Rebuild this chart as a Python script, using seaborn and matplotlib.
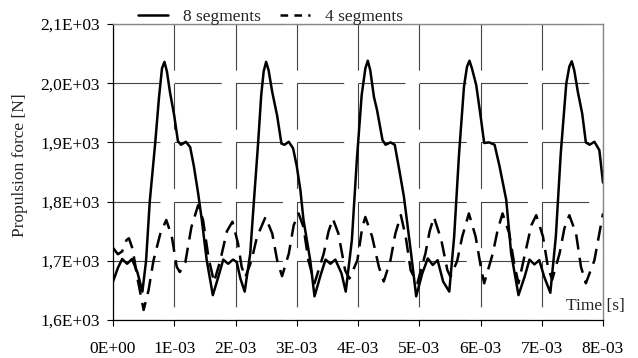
import numpy as np
import matplotlib
matplotlib.use("Agg")
import matplotlib.pyplot as plt
import seaborn as sns

# time in ms, force in N
t8_ms = [0.00, 0.08, 0.15, 0.23, 0.31, 0.40, 0.48, 0.54, 0.60, 0.69, 0.75, 0.80, 0.84, 0.88, 0.93,
         1.00, 1.06, 1.11, 1.19, 1.26, 1.32, 1.39, 1.45, 1.53, 1.63, 1.72, 1.80, 1.88, 1.96,
         2.02, 2.08, 2.15, 2.24, 2.30, 2.37, 2.42, 2.46, 2.50, 2.54, 2.60, 2.68, 2.75, 2.80, 2.87, 2.94,
         3.00, 3.06, 3.11, 3.22, 3.29, 3.39, 3.47, 3.55, 3.63, 3.73, 3.80, 3.90, 3.98,
         4.06, 4.12, 4.16, 4.20, 4.26, 4.31, 4.40, 4.45, 4.53, 4.60, 4.68, 4.75, 4.86, 4.95,
         5.05, 5.14, 5.22, 5.30, 5.39, 5.49, 5.57, 5.65, 5.73, 5.78, 5.82, 5.86, 5.93,
         6.01, 6.06, 6.14, 6.23, 6.31, 6.42, 6.50, 6.62, 6.72, 6.80, 6.88, 6.96,
         7.04, 7.14, 7.23, 7.31, 7.40, 7.45, 7.49, 7.53, 7.59, 7.66, 7.72, 7.78, 7.86, 7.94, 8.00]
f8 = [1665, 1688, 1703, 1695, 1703, 1680, 1648, 1700, 1800, 1900, 1975, 2025, 2036, 2020, 1985,
      1945, 1902, 1896, 1901, 1892, 1860, 1814, 1769, 1701, 1642, 1673, 1702, 1695, 1702,
      1698, 1670, 1648, 1712, 1800, 1900, 1980, 2020, 2036, 2022, 1985, 1945, 1898, 1896, 1901, 1890,
      1860, 1819, 1769, 1701, 1640, 1676, 1702, 1695, 1702, 1679, 1648, 1735, 1869,
      1980, 2025, 2038, 2022, 1977, 1955, 1904, 1896, 1900, 1896, 1850, 1808, 1718, 1640,
      1679, 1704, 1693, 1701, 1665, 1648, 1741, 1881, 1994, 2028, 2038, 2025, 1997,
      1938, 1899, 1900, 1896, 1860, 1803, 1713, 1642, 1673, 1702, 1694, 1701,
      1673, 1646, 1741, 1881, 1999, 2028, 2037, 2022, 1985, 1949, 1900, 1896, 1901, 1887, 1832]

t4_ms = [0.00, 0.08, 0.15, 0.22, 0.26, 0.32, 0.40, 0.50, 0.58, 0.66, 0.77, 0.87, 0.96,
         1.04, 1.09, 1.18, 1.28, 1.39, 1.47, 1.56, 1.65, 1.75, 1.86, 1.95,
         2.04, 2.10, 2.16, 2.26, 2.35, 2.49, 2.60, 2.68, 2.76, 2.87, 2.95,
         3.03, 3.11, 3.19, 3.29, 3.44, 3.52, 3.59, 3.68, 3.79, 3.86, 3.99,
         4.07, 4.12, 4.23, 4.34, 4.42, 4.53, 4.61, 4.70, 4.78, 4.86, 4.97,
         5.10, 5.17, 5.24, 5.36, 5.46, 5.51, 5.62, 5.70, 5.81, 5.92,
         6.01, 6.06, 6.20, 6.28, 6.36, 6.47, 6.55, 6.62, 6.74, 6.83, 6.91,
         7.02, 7.10, 7.17, 7.29, 7.37, 7.45, 7.56, 7.64, 7.72, 7.86, 8.00]
f4 = [1722, 1711, 1716, 1735, 1738, 1720, 1670, 1617, 1650, 1700, 1745, 1769, 1741,
      1690, 1681, 1697, 1757, 1794, 1769, 1705, 1664, 1700, 1750, 1766,
      1730, 1690, 1672, 1700, 1740, 1774, 1746, 1701, 1674, 1712, 1760,
      1780, 1757, 1701, 1662, 1712, 1750, 1771, 1746, 1684, 1670, 1701,
      1757, 1774, 1741, 1690, 1665, 1701, 1746, 1777, 1740, 1684, 1662,
      1712, 1750, 1774, 1735, 1684, 1673, 1700, 1740, 1780, 1741,
      1687, 1662, 1712, 1752, 1780, 1746, 1695, 1662, 1718, 1760, 1777,
      1741, 1690, 1668, 1712, 1755, 1777, 1746, 1690, 1662, 1701, 1780]

x_ticks = [0, 1e-3, 2e-3, 3e-3, 4e-3, 5e-3, 6e-3, 7e-3, 8e-3]
x_tick_labels = ["0E+00", "1E-03", "2E-03", "3E-03", "4E-03", "5E-03", "6E-03", "7E-03", "8E-03"]
y_ticks = [1600, 1700, 1800, 1900, 2000, 2100]
y_tick_labels = ["1,6E+03", "1,7E+03", "1,8E+03", "1,9E+03", "2,0E+03", "2,1E+03"]

sns.set_theme(style="white")
plt.rcParams["font.family"] = ["Liberation Serif", "DejaVu Serif"]
plt.rcParams["lines.scale_dashes"] = False
plt.rcParams["font.size"] = 12.5

fig = plt.figure(figsize=(6.38, 3.58), dpi=100)
ax = fig.add_axes([113 / 638, 1 - 320 / 358, 490 / 638, 296 / 358])

t8 = np.array(t8_ms) * 1e-3
t4 = np.array(t4_ms) * 1e-3
sns.lineplot(x=t8, y=f8, ax=ax, color="black", lw=1.8, label="8 segments")
sns.lineplot(x=t4, y=f4, ax=ax, color="black", lw=1.8, linestyle=(0, (11, 6)), label="4 segments")

ax.set_xlim(0, 8e-3)
ax.set_ylim(1600, 2100)
ax.set_xticks(x_ticks)
ax.set_xticklabels(x_tick_labels)
ax.set_yticks(y_ticks)
ax.set_yticklabels(y_tick_labels)
ax.tick_params(axis="both", direction="out", length=4, width=0.8, color="black",
               labelsize=12.5, labelcolor="black")
ax.tick_params(axis="x", pad=11, bottom=True)
ax.tick_params(axis="y", pad=5.5, left=True)

# grid dashes line up with the grid spacing, like the spreadsheet export
ax.xaxis.grid(True, color="#444444", lw=0.8, linestyle=(33.1, (33.1, 9.5)))
ax.yaxis.grid(True, color="#444444", lw=0.8, linestyle=(0, (33.8, 10.3)))
ax.set_axisbelow(True)

for s in ["left", "bottom"]:
    ax.spines[s].set_color("black")
    ax.spines[s].set_linewidth(0.9)
for s in ["top", "right"]:
    ax.spines[s].set_color("#888888")
    ax.spines[s].set_linewidth(1.0)

ax.set_ylabel("Propulsion force [N]", fontsize=12.5, va="center")
ax.yaxis.set_label_coords(-0.19, 0.524)
ax.set_xlabel("Time [s]", fontsize=12.5, ha="right", va="center")
ax.xaxis.set_label_coords(1.045, 0.047)

leg = ax.legend(loc="center", bbox_to_anchor=(0.321, 1.025), ncol=2, frameon=False,
                fontsize=12.5, handlelength=1.73, handletextpad=0.86, columnspacing=1.1,
                borderpad=0, borderaxespad=0)
leg.get_lines()[1].set_linestyle((0, (5.5, 4.5)))

fig.savefig("out.png", dpi=100)
